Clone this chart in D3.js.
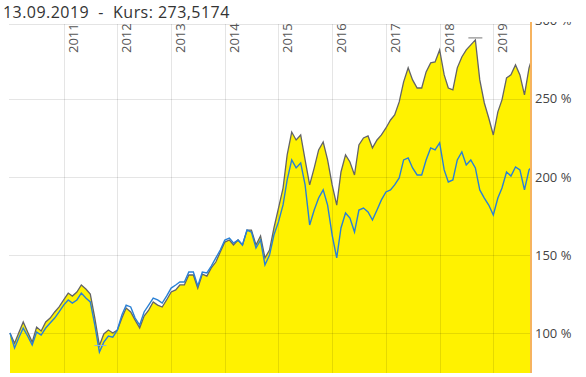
<!DOCTYPE html>
<html>
<head>
<meta charset="utf-8">
<script src="https://cdn.jsdelivr.net/npm/d3@7"></script>
<style>
  body { margin: 0; background: #fff; }
  svg { display: block; font-family: "Open Sans", sans-serif; }
</style>
</head>
<body>
<div id="chart"></div>
<script>
var titleText = "13.09.2019  -  Kurs: 273,5174";

var months = [
  "2010-01","2010-02","2010-03","2010-04","2010-05","2010-06","2010-07","2010-08","2010-09","2010-10","2010-11","2010-12",
  "2011-01","2011-02","2011-03","2011-04","2011-05","2011-06","2011-07","2011-08","2011-09","2011-10","2011-11","2011-12",
  "2012-01","2012-02","2012-03","2012-04","2012-05","2012-06","2012-07","2012-08","2012-09","2012-10","2012-11","2012-12",
  "2013-01","2013-02","2013-03","2013-04","2013-05","2013-06","2013-07","2013-08","2013-09","2013-10","2013-11","2013-12",
  "2014-01","2014-02","2014-03","2014-04","2014-05","2014-06","2014-07","2014-08","2014-09","2014-10","2014-11","2014-12",
  "2015-01","2015-02","2015-03","2015-04","2015-05","2015-06","2015-07","2015-08","2015-09","2015-10","2015-11","2015-12",
  "2016-01","2016-02","2016-03","2016-04","2016-05","2016-06","2016-07","2016-08","2016-09","2016-10","2016-11","2016-12",
  "2017-01","2017-02","2017-03","2017-04","2017-05","2017-06","2017-07","2017-08","2017-09","2017-10","2017-11","2017-12",
  "2018-01","2018-02","2018-03","2018-04","2018-05","2018-06","2018-07","2018-08","2018-09","2018-10","2018-11","2018-12",
  "2019-01","2019-02","2019-03","2019-04","2019-05","2019-06","2019-07","2019-08","2019-09","2019-09-13"
];

// fund (grey line, yellow area), in % of start
var fund = [
  100, 93.5, 100.0, 107.1, 100.6, 94.2, 103.8, 101.3, 107.1, 109.6, 113.5, 116.7,
  121.2, 125.6, 123.7, 126.3, 130.8, 128.2, 125.0, 109.6, 92.0, 99.4, 101.9, 100.0,
  101.9, 109.6, 116.0, 113.5, 108.3, 103.2, 110.9, 114.7, 119.9, 117.9, 116.7, 121.2,
  126.3, 127.6, 130.8, 130.8, 137.2, 137.2, 128.8, 137.8, 136.5, 141.7, 145.5, 151.9,
  158.3, 159.6, 156.4, 159.6, 156.4, 166.0, 166.0, 156.4, 162.2, 148.1, 153.2, 167.3,
  180.1, 192.9, 214.1, 228.8, 223.7, 226.9, 210.9, 194.9, 205.8, 217.3, 222.4, 210.9,
  194.9, 182.0, 203.2, 214.1, 209.6, 201.3, 220.5, 225.0, 226.3, 218.6, 223.7, 226.9,
  231.4, 236.5, 239.7, 248.1, 260.9, 269.9, 262.2, 257.0, 257.0, 267.3, 273.1, 273.7,
  281.4, 265.4, 257.0, 255.8, 269.9, 276.9, 281.4, 284.6, 287.8, 262.2, 247.4, 237.8,
  226.9, 241.7, 249.4, 263.5, 265.4, 271.8, 265.4, 252.6, 269.9, 273.5
];

// benchmark (blue line)
var bench = [
  100, 90.4, 96.8, 103.2, 98.1, 92.3, 100.6, 98.7, 103.2, 106.4, 109.6, 113.5,
  117.9, 121.2, 119.2, 121.2, 125.6, 122.4, 119.9, 105.1, 87.8, 94.2, 98.1, 97.4,
  101.9, 111.5, 117.9, 116.7, 109.6, 105.1, 113.5, 117.9, 122.4, 121.2, 119.2, 123.7,
  128.8, 130.8, 132.7, 132.7, 139.1, 139.1, 130.1, 139.1, 138.5, 142.9, 148.1, 153.2,
  159.6, 160.9, 157.7, 159.6, 156.4, 166.0, 164.7, 154.5, 159.6, 143.6, 150.0, 162.8,
  171.2, 182.1, 198.1, 210.9, 205.8, 209.0, 194.9, 169.2, 178.8, 186.5, 191.7, 182.0,
  162.8, 148.1, 167.3, 176.9, 173.7, 164.7, 178.8, 180.1, 177.6, 172.4, 178.8, 185.3,
  190.4, 191.7, 194.9, 199.4, 210.9, 212.2, 205.8, 201.3, 201.3, 210.9, 218.6, 217.3,
  221.8, 204.5, 196.8, 198.1, 210.9, 216.0, 207.7, 210.9, 205.8, 191.7, 186.5, 182.0,
  175.6, 186.5, 192.9, 203.2, 200.6, 206.4, 204.5, 191.7, 204.5, 205.8
];

var yTicks = [100, 150, 200, 250, 300];
var yearTicks = ["2011", "2012", "2013", "2014", "2015", "2016", "2017", "2018", "2019"];

var width = 586, height = 377;
var plotLeft = 9, plotRight = 531, plotTop = 24, plotBottom = 373;

var parse = function(s) {
  return s.length > 7 ? d3.timeParse("%Y-%m-%d")(s) : d3.timeParse("%Y-%m")(s);
};

var data = months.map(function(m, i) {
  return { date: parse(m), fund: fund[i], bench: bench[i] };
});

var x = d3.scaleTime()
  .domain([parse("2010-01"), parse("2019-09-13")])
  .range([10, 530.8]);

var y = d3.scaleLinear()
  .domain([74.4, 298])
  .range([plotBottom, plotTop]);

var svg = d3.select("#chart")
  .append("svg")
  .attr("width", width)
  .attr("height", height);

svg.append("defs").append("clipPath")
  .attr("id", "labelclip")
  .append("rect")
  .attr("x", 0).attr("y", 22)
  .attr("width", width).attr("height", height - 22);

// title
svg.append("text")
  .attr("x", 3)
  .attr("y", 18)
  .attr("fill", "#333")
  .style("font-size", "16px")
  .style("letter-spacing", "0.45px")
  .style("white-space", "pre")
  .attr("xml:space", "preserve")
  .text(titleText);

// yellow area under the fund line
svg.append("path")
  .datum(data)
  .attr("fill", "#fff200")
  .attr("d", d3.area()
    .x(function(d) { return x(d.date); })
    .y0(plotBottom)
    .y1(function(d) { return y(d.fund); }));

// grid
svg.append("line")
  .attr("x1", plotLeft).attr("x2", plotRight)
  .attr("y1", plotTop + 0.5).attr("y2", plotTop + 0.5)
  .attr("stroke", "#e4e4e4");

svg.selectAll("line.hgrid")
  .data(yTicks.slice(0, 4))
  .enter()
  .append("line")
  .attr("class", "hgrid")
  .attr("x1", plotLeft).attr("x2", plotRight)
  .attr("y1", function(d) { return Math.round(y(d)) + 0.5; })
  .attr("y2", function(d) { return Math.round(y(d)) + 0.5; })
  .attr("stroke", "rgba(0,0,0,0.1)");

svg.selectAll("line.vgrid")
  .data(yearTicks)
  .enter()
  .append("line")
  .attr("class", "vgrid")
  .attr("x1", function(d) { return Math.round(x(parse(d + "-01"))) + 0.5; })
  .attr("x2", function(d) { return Math.round(x(parse(d + "-01"))) + 0.5; })
  .attr("y1", plotTop).attr("y2", plotBottom)
  .attr("stroke", "rgba(0,0,0,0.1)");

// year labels, rotated
svg.selectAll("text.year")
  .data(yearTicks)
  .enter()
  .append("text")
  .attr("class", "year")
  .attr("transform", function(d) {
    return "translate(" + (x(parse(d + "-01")) + 14) + ",53) rotate(-90)";
  })
  .attr("fill", "#555")
  .style("font-size", "13px")
  .text(function(d) { return d; });

// lines (benchmark drawn over the fund line)
var line = d3.line()
  .x(function(d) { return x(d.date); });

svg.append("path")
  .datum(data)
  .attr("fill", "none")
  .attr("stroke", "#636466")
  .attr("stroke-width", 1.3)
  .attr("d", line.y(function(d) { return y(d.fund); }));

svg.append("path")
  .datum(data)
  .attr("fill", "none")
  .attr("stroke", "#2a80d5")
  .attr("stroke-width", 1.4)
  .attr("d", line.y(function(d) { return y(d.bench); }));

// high / low markers of the fund
var hi = data.reduce(function(a, b) { return b.fund > a.fund ? b : a; });
var lo = data.reduce(function(a, b) { return b.fund < a.fund ? b : a; });

svg.append("line")
  .attr("x1", x(hi.date) - 7).attr("x2", x(hi.date) + 7)
  .attr("y1", y(hi.fund) - 2).attr("y2", y(hi.fund) - 2)
  .attr("stroke", "#777");
svg.append("line")
  .attr("x1", x(lo.date) - 5).attr("x2", x(lo.date) + 7)
  .attr("y1", y(lo.fund)).attr("y2", y(lo.fund))
  .attr("stroke", "#8fb6dd");

// right border
svg.append("line")
  .attr("x1", plotRight).attr("x2", plotRight)
  .attr("y1", 22).attr("y2", plotBottom)
  .attr("stroke", "#f6b35f")
  .attr("stroke-width", 2);

// y labels
svg.append("g")
  .attr("clip-path", "url(#labelclip)")
  .selectAll("text")
  .data(yTicks)
  .enter()
  .append("text")
  .attr("x", 535)
  .attr("y", function(d) { return y(d); })
  .attr("dy", "0.35em")
  .attr("fill", "#444")
  .style("font-size", "13px")
  .text(function(d) { return d + " %"; });
</script>
</body>
</html>
